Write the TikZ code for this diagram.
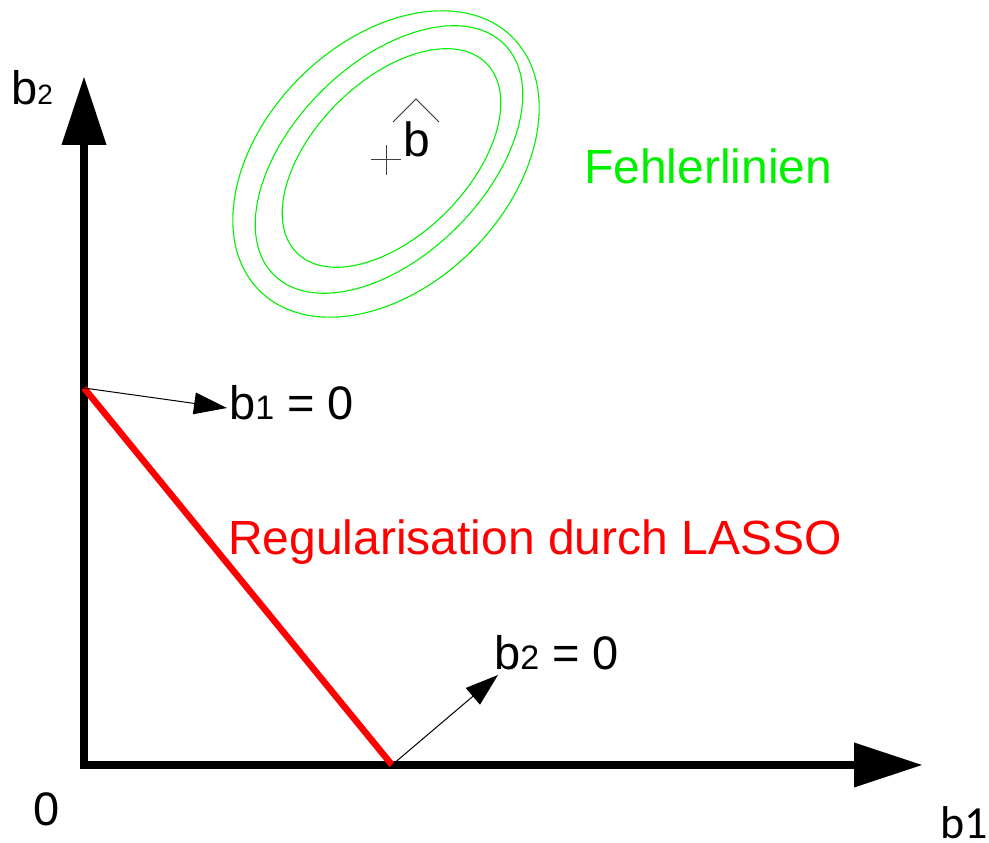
\documentclass[tikz,border=0pt]{standalone}
\usepackage{fontspec}
\setmainfont{Liberation Sans}
\newfontfamily\carlito{Carlito}
\usetikzlibrary{arrows.meta}
\definecolor{fgreen}{RGB}{0,240,0}
\definecolor{fred}{RGB}{255,0,0}
\newcommand\sbs[1]{{\fontsize{34}{34}\selectfont #1}}
\newcommand\sbsmall[1]{{\fontsize{28}{28}\selectfont #1}}
\begin{document}
\begin{tikzpicture}[x=1pt,y=1pt,
  axis/.style={line width=8pt, line cap=rect, -{Triangle[length=68pt,width=45pt,line width=0pt]}},
  pointer/.style={line width=1pt, -{Triangle[length=33pt,width=22pt,line width=0pt]}},
  lbl/.style={inner sep=0pt, anchor=base west, font=\fontsize{47}{50}\selectfont},
  biglbl/.style={inner sep=0pt, anchor=base west, font=\fontsize{48}{52}\selectfont},
  contour/.style={draw=fgreen, line width=1.1pt},
  redline/.style={draw=fred, line width=6.5pt}
]
\useasboundingbox (0,0) rectangle (989,843);
% coordinates
\coordinate (O) at (84,78);
\coordinate (ytip) at (84,766);
\coordinate (xtip) at (922,78);
\coordinate (A) at (84,455);
\coordinate (B) at (392,78);
\coordinate (p1) at (227,435);
\coordinate (p2) at (498,168);
% error contours
\coordinate (c1) at (386,679);
\coordinate (c2) at (389,683.5);
\coordinate (c3) at (391.5,685);
\draw[contour, rotate around={45:(c1)}] (c1) ellipse [x radius=179, y radius=122];
\draw[contour, rotate around={45:(c2)}] (c2) ellipse [x radius=163, y radius=96];
\draw[contour, rotate around={45:(c3)}] (c3) ellipse [x radius=134, y radius=77];
% axes
\draw[axis] (O) -- (ytip);
\draw[axis] (O) -- (xtip);
% LASSO constraint
\draw[redline] (A) -- (B);
% pointers
\draw[pointer] (A) -- (p1);
\draw[pointer] (B) -- (p2);
% estimate b-hat
\draw[line width=1pt, black!75] (371,683) -- (401,683) (386,668) -- (386,698);
\node[biglbl] (bhat) at (403,686) {b};
\draw[line width=1pt, black!80] (393,721) -- (416,744) -- (439,721);
% labels
\node[lbl] (b2lbl) at (11,738) {b\sbsmall{2}};
\node[lbl] (zero) at (33,17) {0};
\node[inner sep=0pt, anchor=base east, font=\carlito\fontsize{46}{50}\selectfont] (b1ax) at (988,4) {b1};
\node[lbl] (l1) at (229,423) {b\sbs{1} = 0};
\node[lbl] (l2) at (494,173) {b\sbs{2} = 0};
\node[biglbl, text=fred] (reg) at (228,288) {Regularisation durch LASSO};
\node[biglbl, text=fgreen] (fehl) at (584,659) {Fehlerlinien};
\end{tikzpicture}
\end{document}
